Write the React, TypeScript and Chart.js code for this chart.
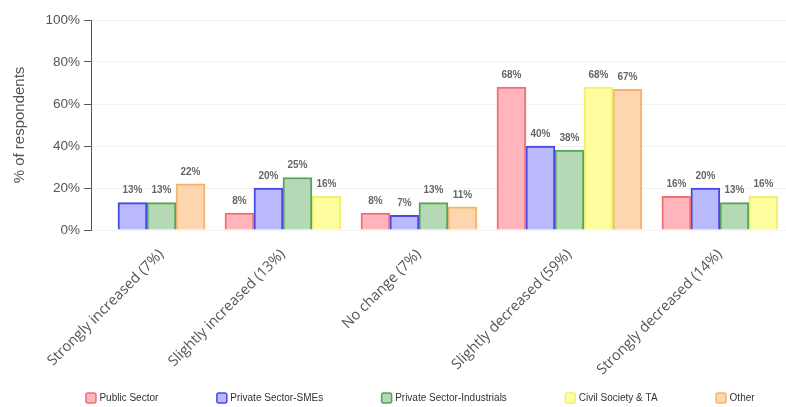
import { useEffect, useRef } from 'react';
import { Chart, registerables } from 'chart.js';

Chart.register(...registerables);

const categories = [
  'Strongly increased (7%)',
  'Slightly increased (13%)',
  'No change (7%)',
  'Slightly decreased (59%)',
  'Strongly decreased (14%)',
];
const seriesNames = ['Public Sector', 'Private Sector-SMEs', 'Private Sector-Industrials', 'Civil Society & TA', 'Other'];
const publicSector: (number | null)[] = [null, 8, 8, 68, 16];
const privateSMEs: (number | null)[] = [13, 20, 7, 40, 20];
const privateIndustrials: (number | null)[] = [13, 25, 13, 38, 13];
const civilSociety: (number | null)[] = [null, 16, null, 68, 16];
const other: (number | null)[] = [22, null, 11, 67, null];
const yTickValues = [0, 20, 40, 60, 80, 100];

const fillColors = ['#ffb5bb', '#b9b9fb', '#b5d8b5', '#fdfd9e', '#fdd6b0'];
const borderColors = ['#f07078', '#4848e6', '#56a456', '#f0f070', '#f4b46c'];

const GAP = 0.69;
const series = [publicSector, privateSMEs, privateIndustrials, civilSociety, other];
const points: { x: number; y: number }[][] = series.map(() => []);
const centers: number[] = [];
let cursor = 0;
categories.forEach((_, ci) => {
  const start = cursor;
  series.forEach((s, si) => {
    const v = s[ci];
    if (v != null) {
      points[si].push({ x: cursor + 0.5, y: v });
      cursor += 1;
    }
  });
  centers.push((start + cursor) / 2);
  cursor += GAP;
});
const xMax = cursor - GAP + 0.28;

const valueLabels = {
  id: 'valueLabels',
  afterDatasetsDraw(chart: any) {
    const ctx = chart.ctx;
    ctx.save();
    ctx.font = 'bold 10px Arial';
    ctx.fillStyle = '#666';
    ctx.textAlign = 'center';
    ctx.textBaseline = 'bottom';
    chart.data.datasets.forEach((ds: any, i: number) => {
      const meta = chart.getDatasetMeta(i);
      meta.data.forEach((el: any, j: number) => {
        ctx.fillText(ds.data[j].y + '%', el.x, el.y - 7);
      });
    });
    ctx.restore();
  },
};

const customLegend = {
  id: 'customLegend',
  afterDraw(chart: any) {
    const ctx = chart.ctx;
    ctx.save();
    ctx.font = '10px Arial';
    ctx.textBaseline = 'middle';
    ctx.textAlign = 'left';
    const box = 10;
    const textGap = 4;
    const itemGap = 58;
    const widths = seriesNames.map((n) => box + textGap + ctx.measureText(n).width);
    const total = widths.reduce((a, b) => a + b, 0) + itemGap * (widths.length - 1);
    let x = 420 - total / 2;
    const y = 398;
    seriesNames.forEach((n, i) => {
      ctx.fillStyle = fillColors[i];
      ctx.strokeStyle = borderColors[i];
      ctx.lineWidth = 1.5;
      ctx.beginPath();
      (ctx as any).roundRect(x + 0.5, y - box / 2, box, box, 2);
      ctx.fill();
      ctx.stroke();
      ctx.fillStyle = '#333';
      ctx.fillText(n, x + box + textGap, y);
      x += widths[i] + itemGap;
    });
    ctx.restore();
  },
};

export default function App() {
  const ref = useRef<HTMLCanvasElement>(null);
  useEffect(() => {
    if (!ref.current) return;
    const chart = new Chart(ref.current, {
      type: 'bar',
      data: {
        datasets: seriesNames.map((name, i) => ({
          label: name,
          data: points[i],
          backgroundColor: fillColors[i],
          borderColor: borderColors[i],
          borderWidth: 2,
          grouped: false,
          barPercentage: 1,
          categoryPercentage: 1,
        })) as any,
      },
      options: {
        animation: false,
        responsive: true,
        maintainAspectRatio: false,
        events: [],
        layout: { padding: { top: 20, right: 0, bottom: 30, left: 0 } },
        plugins: {
          legend: { display: false },
          tooltip: { enabled: false },
        },
        scales: {
          x: {
            type: 'linear',
            offset: false,
            min: -0.93,
            max: xMax,
            grid: { display: false, offset: false },
            border: { display: false },
            afterBuildTicks: (s: any) => {
              s.ticks = centers.map((v) => ({ value: v }));
            },
            afterFit: (s: any) => {
              s.height = 147;
              s.paddingLeft = 0;
              s.paddingRight = 0;
            },
            ticks: {
              autoSkip: false,
              minRotation: 45,
              maxRotation: 45,
              color: '#555',
              font: { family: 'Open Sans', size: 14.5 },
              padding: 8,
              callback: (_v: any, idx: number) => categories[idx],
            },
          },
          y: {
            min: 0,
            max: 100,
            afterBuildTicks: (s: any) => {
              s.ticks = yTickValues.map((v) => ({ value: v }));
            },
            afterFit: (s: any) => {
              s.width = 91;
            },
            grid: { color: '#f2f2f2', tickColor: '#555', tickLength: 7 },
            border: { display: true, color: '#555', width: 1 },
            ticks: {
              color: '#555',
              font: { family: 'Arial', size: 13.5 },
              padding: 4,
              callback: (v: any) => v + '%',
            },
            title: {
              display: true,
              text: '% of respondents',
              color: '#555',
              font: { family: 'Arial', size: 15 },
              padding: { top: 11, bottom: 0 },
            },
          },
        },
      },
      plugins: [valueLabels, customLegend],
    });
    return () => chart.destroy();
  }, []);
  return (
    <div style={{ position: 'fixed', left: 0, top: 0, width: 786, height: 407 }}>
      <canvas ref={ref} />
    </div>
  );
}
